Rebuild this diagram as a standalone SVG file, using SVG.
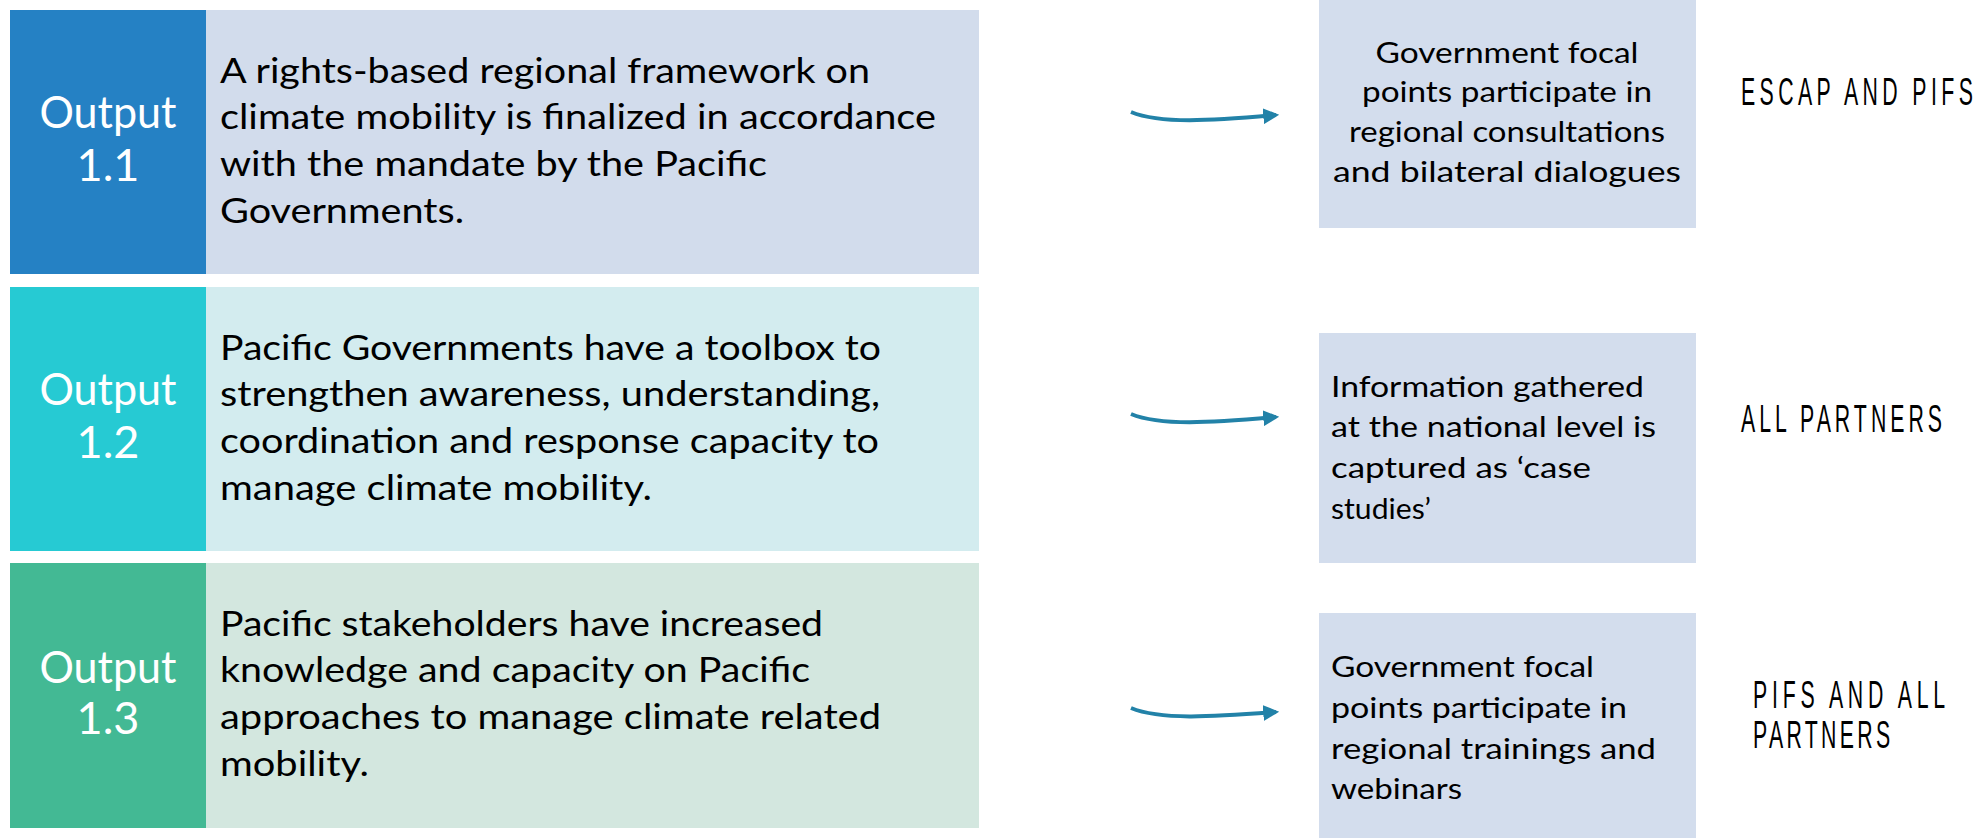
<svg xmlns="http://www.w3.org/2000/svg" width="1978" height="838" viewBox="0 0 1978 838">
<style>
.lab{font-family:Lato,"Liberation Sans",sans-serif;font-size:45px;fill:#fff;text-anchor:middle}
.body{font-family:Lato,"Liberation Sans",sans-serif;font-size:34px;fill:#000}
.rt{font-family:Lato,"Liberation Sans",sans-serif;font-size:28px;fill:#000}
.who{font-family:"Liberation Sans",sans-serif;font-size:38px;fill:#000}
.rb{fill:#D3DDED}
.conn{fill:none;stroke:#2282A8;stroke-width:4}
</style>
<defs>
<marker id="ah" viewBox="0 0 10 10" refX="8" refY="5" markerWidth="4" markerHeight="4" orient="auto" markerUnits="strokeWidth">
<path d="M0,0 L10,5 L0,10 z" fill="#2282A8"/>
</marker>
</defs>
<rect width="1978" height="838" fill="#fff"/>
<g id="output-1-1">
<rect x="206" y="10" width="773" height="264" fill="#D2DCEC"/>
<rect x="10" y="10" width="196" height="264" fill="#2581C4"/>
<text class="lab" x="108" y="128" textLength="137" lengthAdjust="spacingAndGlyphs">Output</text>
<text class="lab" x="108" y="181">1.1</text>
<text class="body" x="220" y="83" textLength="650" lengthAdjust="spacingAndGlyphs">A rights-based regional framework on</text>
<text class="body" x="220" y="129" textLength="716" lengthAdjust="spacingAndGlyphs">climate mobility is finalized in accordance</text>
<text class="body" x="220" y="176" textLength="547" lengthAdjust="spacingAndGlyphs">with the mandate by the Pacific</text>
<text class="body" x="220" y="223" textLength="244" lengthAdjust="spacingAndGlyphs">Governments.</text>
</g>
<g id="output-1-2">
<rect x="206" y="287" width="773" height="264" fill="#D3ECEF"/>
<rect x="10" y="287" width="196" height="264" fill="#26CAD3"/>
<text class="lab" x="108" y="405" textLength="137" lengthAdjust="spacingAndGlyphs">Output</text>
<text class="lab" x="108" y="458">1.2</text>
<text class="body" x="220" y="360" textLength="661" lengthAdjust="spacingAndGlyphs">Pacific Governments have a toolbox to</text>
<text class="body" x="220" y="406" textLength="660" lengthAdjust="spacingAndGlyphs">strengthen awareness, understanding,</text>
<text class="body" x="220" y="453" textLength="659" lengthAdjust="spacingAndGlyphs">coordination and response capacity to</text>
<text class="body" x="220" y="500" textLength="432" lengthAdjust="spacingAndGlyphs">manage climate mobility.</text>
</g>
<g id="output-1-3">
<rect x="206" y="563" width="773" height="265" fill="#D3E7DF"/>
<rect x="10" y="563" width="196" height="265" fill="#43B994"/>
<text class="lab" x="108" y="683" textLength="137" lengthAdjust="spacingAndGlyphs">Output</text>
<text class="lab" x="108" y="734">1.3</text>
<text class="body" x="220" y="636" textLength="603" lengthAdjust="spacingAndGlyphs">Pacific stakeholders have increased</text>
<text class="body" x="220" y="682" textLength="590" lengthAdjust="spacingAndGlyphs">knowledge and capacity on Pacific</text>
<text class="body" x="220" y="729" textLength="661" lengthAdjust="spacingAndGlyphs">approaches to manage climate related</text>
<text class="body" x="220" y="776" textLength="149" lengthAdjust="spacingAndGlyphs">mobility.</text>
</g>
<g id="result-1">
<rect class="rb" x="1319" y="0" width="377" height="228"/>
<text class="rt" x="1507" y="63" text-anchor="middle" textLength="263" lengthAdjust="spacingAndGlyphs">Government focal</text>
<text class="rt" x="1507" y="102" text-anchor="middle" textLength="290" lengthAdjust="spacingAndGlyphs">points participate in</text>
<text class="rt" x="1507" y="142" text-anchor="middle" textLength="316" lengthAdjust="spacingAndGlyphs">regional consultations</text>
<text class="rt" x="1507" y="182" text-anchor="middle" textLength="348" lengthAdjust="spacingAndGlyphs">and bilateral dialogues</text>
</g>
<g id="result-2">
<rect class="rb" x="1319" y="333" width="377" height="230"/>
<text class="rt" x="1331" y="397" textLength="313" lengthAdjust="spacingAndGlyphs">Information gathered</text>
<text class="rt" x="1331" y="437" textLength="325" lengthAdjust="spacingAndGlyphs">at the national level is</text>
<text class="rt" x="1331" y="478" textLength="260" lengthAdjust="spacingAndGlyphs">captured as ‘case</text>
<text class="rt" x="1331" y="519" textLength="100" lengthAdjust="spacingAndGlyphs">studies’</text>
</g>
<g id="result-3">
<rect class="rb" x="1319" y="613" width="377" height="225"/>
<text class="rt" x="1331" y="677" textLength="263" lengthAdjust="spacingAndGlyphs">Government focal</text>
<text class="rt" x="1331" y="718" textLength="296" lengthAdjust="spacingAndGlyphs">points participate in</text>
<text class="rt" x="1331" y="759" textLength="325" lengthAdjust="spacingAndGlyphs">regional trainings and</text>
<text class="rt" x="1331" y="799" textLength="131" lengthAdjust="spacingAndGlyphs">webinars</text>
</g>
<g id="label-1">
<text class="who" transform="translate(1741,105) scale(0.56,1)" textLength="414" lengthAdjust="spacing">ESCAP AND PIFS</text>
</g>
<g id="label-2">
<text class="who" transform="translate(1741,432) scale(0.56,1)" textLength="359" lengthAdjust="spacing">ALL PARTNERS</text>
</g>
<g id="label-3">
<text class="who" transform="translate(1753,708) scale(0.56,1)" textLength="343" lengthAdjust="spacing">PIFS AND ALL</text>
<text class="who" transform="translate(1753,748) scale(0.56,1)" textLength="245" lengthAdjust="spacing">PARTNERS</text>
</g>
<g id="connectors">
<path class="conn" d="M1131,112 C1160,124 1210,121 1276,115" marker-end="url(#ah)"/>
<path class="conn" d="M1131,414 C1160,426 1210,423 1276,417" marker-end="url(#ah)"/>
<path class="conn" d="M1131,708 C1160,720 1210,717 1276,712" marker-end="url(#ah)"/>
</g>
</svg>
